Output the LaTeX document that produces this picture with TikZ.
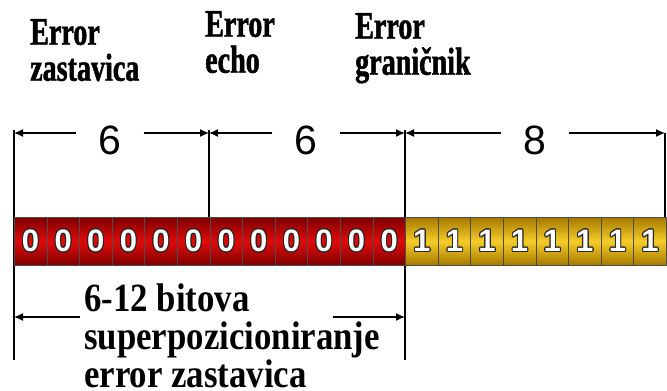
\documentclass[tikz,border=0pt]{standalone}
\usepackage{fontspec}
\setmainfont{Liberation Serif}
\newfontfamily\toplabelfont[FakeStretch=0.72,FakeBold=1.2]{Liberation Serif}
\newfontfamily\botlabelfont[FakeStretch=0.87]{Liberation Serif}
\newfontfamily\digitfont{Liberation Sans}
\usepackage{contour}
\contourlength{1pt}
\usetikzlibrary{arrows.meta}

\definecolor{cellred}{RGB}{225,10,10}
\definecolor{cellreddark}{RGB}{125,0,0}
\definecolor{cellgold}{RGB}{245,205,40}
\definecolor{cellgolddark}{RGB}{165,120,0}

\newcommand{\bitface}[1]{\digitfont\bfseries\fontsize{31}{31}\selectfont\color{white}\contour{black!85}{#1}}

\tikzset{
  redcell/.style={draw=black!70, line width=0.6pt, inner sep=0pt,
    minimum width=32.6pt, minimum height=48pt, anchor=north west,
    top color=cellreddark, bottom color=cellreddark, middle color=cellred},
  goldcell/.style={draw=black!70, line width=0.6pt, inner sep=0pt,
    minimum width=32.6pt, minimum height=48pt, anchor=north west,
    top color=cellgolddark, bottom color=cellgolddark, middle color=cellgold},
  extline/.style={line width=1.6pt},
  dimarrow/.style={line width=1.4pt, -{Latex[length=9pt,width=8pt]}},
  dimlabel/.style={font=\digitfont\fontsize{41}{41}\selectfont, inner xsep=22pt, inner ysep=0pt},
  fieldlabel/.style={font=\toplabelfont\bfseries\fontsize{39}{36}\selectfont, align=left, anchor=north west, inner sep=0pt}
}

\begin{document}
\begin{tikzpicture}[x=1pt, y=-1pt]
	\useasboundingbox[fill=white] (0,0) rectangle (667,391);
	% field names
	\node[fieldlabel] (zast) at (30,19) {Error\\zastavica};
	\node[fieldlabel] (echo) at (205,11) {Error\\echo};
	\node[fieldlabel] (gran) at (355,13) {Error\\graničnik};
	% dimension points
	\coordinate (t0) at (14,133);
	\coordinate (t1) at (209,133);
	\coordinate (t2) at (405,133);
	\coordinate (t3) at (665,133);
	\coordinate (b0) at (14,317);
	\coordinate (b1) at (405,317);
	\coordinate (b0s) at (80,317);
	\coordinate (b1s) at (333,317);
	% extension lines
	\draw[extline] (14,130) -- (14,360);
	\draw[extline] (209,130) -- (209,220);
	\draw[extline] (405,130) -- (405,360);
	\draw[extline] (665,133) -- (665,220);
	% widths
	\node[dimlabel] (six1) at (110,140) {6};
	\node[dimlabel] (six2) at (306,140) {6};
	\node[dimlabel] (eight) at (535,140) {8};
	\draw[dimarrow] (six1.west |- t0) -- (t0);
	\draw[dimarrow] (six1.east |- t0) -- (t1);
	\draw[dimarrow] (six2.west |- t0) -- (t1);
	\draw[dimarrow] (six2.east |- t0) -- (t2);
	\draw[dimarrow] (eight.west |- t0) -- (t2);
	\draw[dimarrow] (eight.east |- t0) -- (t3);
	% bits
	\foreach \i in {0,...,11}
		\node[redcell] (r\i) at ({14+32.6*\i},217) {\bitface{0}};
	\foreach \i in {0,...,7}
		\node[goldcell] (g\i) at ({405.2+32.6*\i},217) {\bitface{1}};
	% superposition
	\node[font=\botlabelfont\bfseries\fontsize{40}{38}\selectfont, align=left, anchor=north west, inner sep=0pt] (super) at (84,284) {6-12 bitova\\superpozicioniranje\\error zastavica};
	\draw[dimarrow] (b0s) -- (b0);
	\draw[dimarrow] (b1s) -- (b1);
\end{tikzpicture}
\end{document}
